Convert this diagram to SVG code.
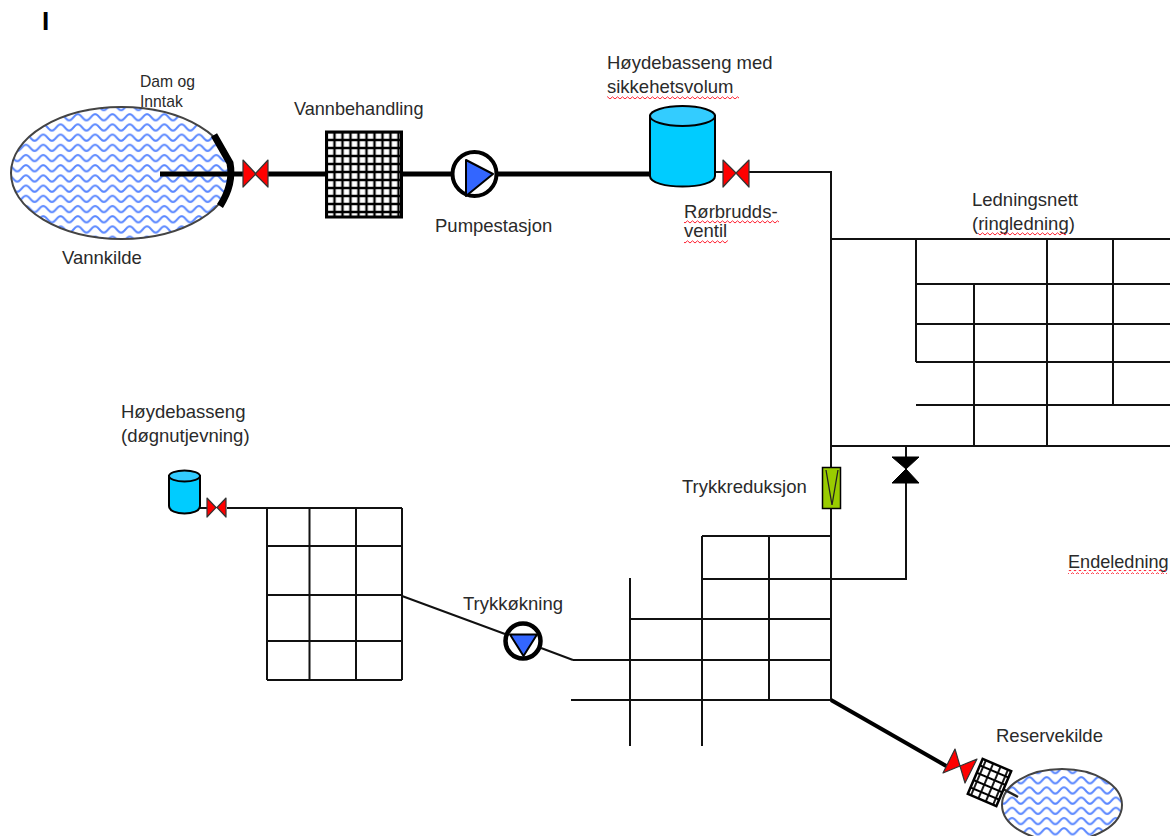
<svg xmlns="http://www.w3.org/2000/svg" width="1170" height="836" viewBox="0 0 1170 836">
<style>
text{font-family:"Liberation Sans",Arial,sans-serif;font-size:18.5px;fill:#2a2a2a}
.small{font-size:15.7px}
.thin{fill:none;stroke:#111;stroke-width:2}
.thick{fill:none;stroke:#000;stroke-width:5}
.water{stroke:#444;stroke-width:2}
.valve{fill:#f00;stroke:#333;stroke-width:1.2;stroke-linejoin:round}
.tank{fill:#00ccff;stroke:#000;stroke-width:2}
.tanktop{fill:#33ccff;stroke:#000;stroke-width:2}
.pumpc{fill:#fff;stroke:#000;stroke-width:4}
.pumpt{fill:#3366ff;stroke:#000;stroke-width:2;stroke-linejoin:round}
</style>
<defs>
<pattern id="waves" patternUnits="userSpaceOnUse" width="17.300" height="10.200">
<rect width="17.300" height="10.200" fill="#fff"/>
<path d="M-1 8.200 L0 8.200 Q1.500 8.200 3 6.500 L6 3.200 Q8.650 0.800 11.300 3.200 L14.300 6.500 Q15.800 8.200 17.300 8.200 L18.300 8.200" fill="none" stroke="#5b88ff" stroke-width="2"/>
</pattern>
<pattern id="hatch" patternUnits="userSpaceOnUse" width="8" height="8" patternTransform="translate(2.500 0)">
<rect width="8" height="8" fill="#fff"/>
<path d="M0 4H8M4 0V8" fill="none" stroke="#000" stroke-width="2.400"/>
</pattern>
<pattern id="hatch2" patternUnits="userSpaceOnUse" width="8" height="8">
<rect width="8" height="8" fill="#fff"/>
<path d="M0 4H8M4 0V8" fill="none" stroke="#000" stroke-width="1.800"/>
</pattern>
<pattern id="squig" patternUnits="userSpaceOnUse" width="5" height="4">
<path d="M0 3 L2.500 0.800 L5 3" fill="none" stroke="#f23" stroke-width="1"/>
</pattern>
</defs>

<g id="connectors">
<path class="thick" d="M160 174H243M268 174H326M401 174H452M497 174H650"/>
<path class="thin" d="M715 172H724M749 172H831V700"/>
<path class="thin" d="M831 239H1170M916 239V362M916 284H1170M916 324H1170M916 362H1170M916 405H1170M831 446H1170M974 284V447M1047 239V447M1113 239V405"/>
<path class="thin" d="M906 446V579H702M702 536H831M702 536V746M769 536V700M630 578V746M630 619H831M573 660H831M571 700H831"/>
<path class="thin" d="M227 508H402M267 508V680M309.500 508V680M356 508V680M402 508V680M267 546H402M267 595H402M267 641H402M267 680H402"/>
<path class="thin" d="M402 596L505 634M541 648L573 660"/>
<path class="thick" d="M831 700L948 767" style="stroke-width:4"/>
<path class="thin" d="M200 508H208"/>
</g>

<g id="mark-i"><text x="42" y="30" style="font-size:26px;font-weight:bold;fill:#000">I</text></g>

<g id="vannkilde">
<ellipse class="water" cx="121.500" cy="173" rx="110.500" ry="66" fill="url(#waves)"/>
<path d="M160 174H231" class="thick"/>
<text x="62" y="264">Vannkilde</text>
</g>

<g id="dam">
<path d="M214 135L230 163Q234 184 220 206" fill="none" stroke="#000" stroke-width="7"/>
<text class="small" x="140" y="87">Dam og</text>
<text class="small" x="140" y="107">Inntak</text>
</g>

<g id="ventil-1"><path class="valve" d="M243 160L256 174L243 187ZM268 160L255 174L268 187Z"/></g>

<g id="vannbehandling">
<rect x="326.500" y="132" width="75" height="85" fill="url(#hatch)" stroke="#000" stroke-width="3"/>
<text x="294" y="115" style="font-size:18.100px">Vannbehandling</text>
</g>

<g id="pumpestasjon">
<circle class="pumpc" cx="474.500" cy="174" r="22"/>
<path class="pumpt" d="M466 160L493 174L466 196Z"/>
<text x="435" y="232">Pumpestasjon</text>
</g>

<g id="hoydebasseng-1">
<path class="tank" d="M650 116V176C650 190 715 190 715 176V116Z"/>
<ellipse class="tanktop" cx="682.500" cy="116" rx="32.500" ry="10"/>
<text x="607" y="69">Høydebasseng med</text>
<text x="607" y="93">sikkehetsvolum</text>
<rect x="607" y="95" width="132" height="4" fill="url(#squig)"/>
</g>

<g id="rorbruddsventil">
<path class="valve" d="M723 160L736 173L723 187ZM749 160L736 173L749 187Z"/>
<text x="684" y="218">Rørbrudds-</text>
<text x="684" y="237">ventil</text>
<rect x="684" y="220" width="95" height="4" fill="url(#squig)"/>
<rect x="684" y="240" width="44" height="4" fill="url(#squig)"/>
</g>

<g id="ledningsnett">
<text x="972" y="206">Ledningsnett</text>
<text x="972" y="230">(ringledning)</text>
<rect x="978" y="232" width="88" height="4" fill="url(#squig)"/>
</g>

<g id="hoydebasseng-2">
<path class="tank" d="M169 476V506C169 516 200 516 200 506V476Z"/>
<ellipse class="tanktop" cx="184.500" cy="476" rx="15.500" ry="5.500"/>
<text x="121" y="418">Høydebasseng</text>
<text x="121" y="442">(døgnutjevning)</text>
</g>

<g id="ventil-2"><path class="valve" d="M207 498L216 507.500L207 517ZM226 498L217 507.500L226 517Z"/></g>

<g id="trykkreduksjon">
<rect x="822.500" y="467.500" width="18" height="41" fill="#99cc00" stroke="#000" stroke-width="1.500"/>
<path d="M826 470L832 505L838 470" fill="none" stroke="#222" stroke-width="1.300"/>
<text x="682" y="493">Trykkreduksjon</text>
</g>

<g id="stengeventil"><path d="M892 457H919L906 469L919 483H892L906 469Z" fill="#000" stroke="#000" stroke-width="1"/></g>

<g id="endeledning">
<text x="1068" y="568" style="font-size:18.100px">Endeledning</text>
<rect x="1068" y="570" width="99" height="4" fill="url(#squig)"/>
</g>

<g id="trykkokning">
<circle class="pumpc" cx="523" cy="641" r="17.500" style="stroke-width:4.500"/>
<path class="pumpt" d="M510 634.500H537L523.500 656Z"/>
<text x="463" y="610">Trykkøkning</text>
</g>

<g id="reservekilde">
<ellipse class="water" cx="1062" cy="805" rx="60" ry="36" fill="url(#waves)"/>
<path d="M1003 789L1018 797" fill="none" stroke="#222" stroke-width="2.500"/>
<text x="996" y="742">Reservekilde</text>
</g>

<g id="ventil-3"><path class="valve" d="M955 749L943 773L960 766ZM977 759L965 783L960 766Z"/></g>

<g id="reservebehandling">
<rect x="-15.500" y="-19" width="31" height="38" transform="translate(989.500 782.500) rotate(23)" fill="url(#hatch2)" stroke="#000" stroke-width="2.500"/>
</g>
</svg>
